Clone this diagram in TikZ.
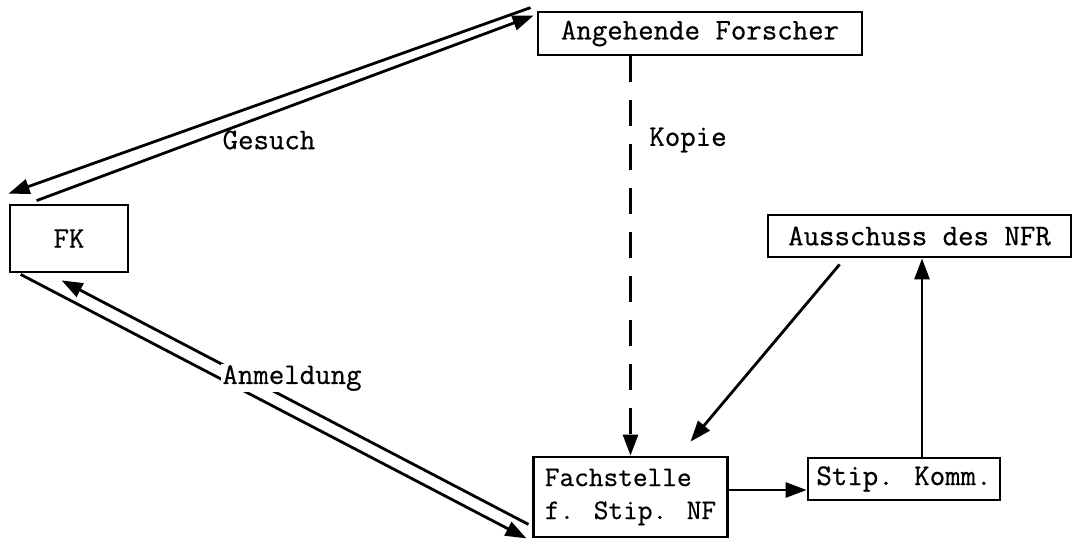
\documentclass[tikz,border=0pt]{standalone}
\usepackage{fontspec}
\newfontfamily\typewriter{Latin Modern Mono}[FakeBold=0.6]
\usepackage{tikz}
\usetikzlibrary{arrows.meta}

\begin{document}
\begin{tikzpicture}[x=1pt, y=-1pt,
    box/.style={draw, line width=2.8pt, inner sep=0pt, font=\typewriter\fontsize{30}{33}\selectfont},
    lbl/.style={inner sep=1pt, font=\typewriter\fontsize{30}{33}\selectfont},
    flow/.style={line width=2.8pt, -{Triangle[length=21pt, width=15pt]}}]
      \useasboundingbox (0,0) rectangle (1074,539);

      \path
      (700,33.5) node[box, minimum width=324pt, minimum height=43pt](forscher){Angehende Forscher}
      (69,238.5) node[box, minimum width=118pt, minimum height=67pt](fk){FK}
      (919.5,236) node[box, minimum width=303pt, minimum height=42pt](ausschuss){Ausschuss des NFR}
      (904,479) node[box, minimum width=192pt, minimum height=42pt](stipkomm){Stip. Komm.}
      (630.5,497) node[box, minimum width=189pt, minimum height=80pt, inner xsep=11pt, align=left,
        font=\typewriter\fontsize{28.5}{33}\selectfont](fachstelle){Fachstelle\\f. Stip. NF};

      % Gesuch
      \draw[flow] ([shift={(-6,-3)}]forscher.north west) -- ([shift={(0,-10)}]fk.north west);
      \draw[flow] ([shift={(28,-3)}]fk.north west) -- ([shift={(-3,5)}]forscher.north west);
      \path (269,140) node[lbl](gesuch){Gesuch};

      % Anmeldung
      \draw[flow] ([shift={(-4,-14)}]fachstelle.south west) -- ([shift={(53,7)}]fk.south west);
      \draw[flow] ([shift={(12,1)}]fk.south west) -- ([shift={(-6,0)}]fachstelle.south west);
      \path (292,378) node[lbl, fill=white](anmeldung){Anmeldung};

      % Kopie
      \draw[flow, dash pattern=on 26pt off 18pt] (fachstelle.north |- forscher.south) -- (fachstelle.north);
      \path (688,140) node[lbl](kopie){Kopie};

      \coordinate (fs) at ([shift={(0,-7)}]fachstelle.east);
      \draw[flow] (fs) -- (fs -| stipkomm.west);
      \draw[flow] ([shift={(18,0)}]stipkomm.north) -- ([shift={(18,0)}]stipkomm.north |- ausschuss.south);
      \draw[flow] ([shift={(73,6)}]ausschuss.south west) -- ([shift={(60,-14)}]fachstelle.north);
    \end{tikzpicture}
\end{document}
